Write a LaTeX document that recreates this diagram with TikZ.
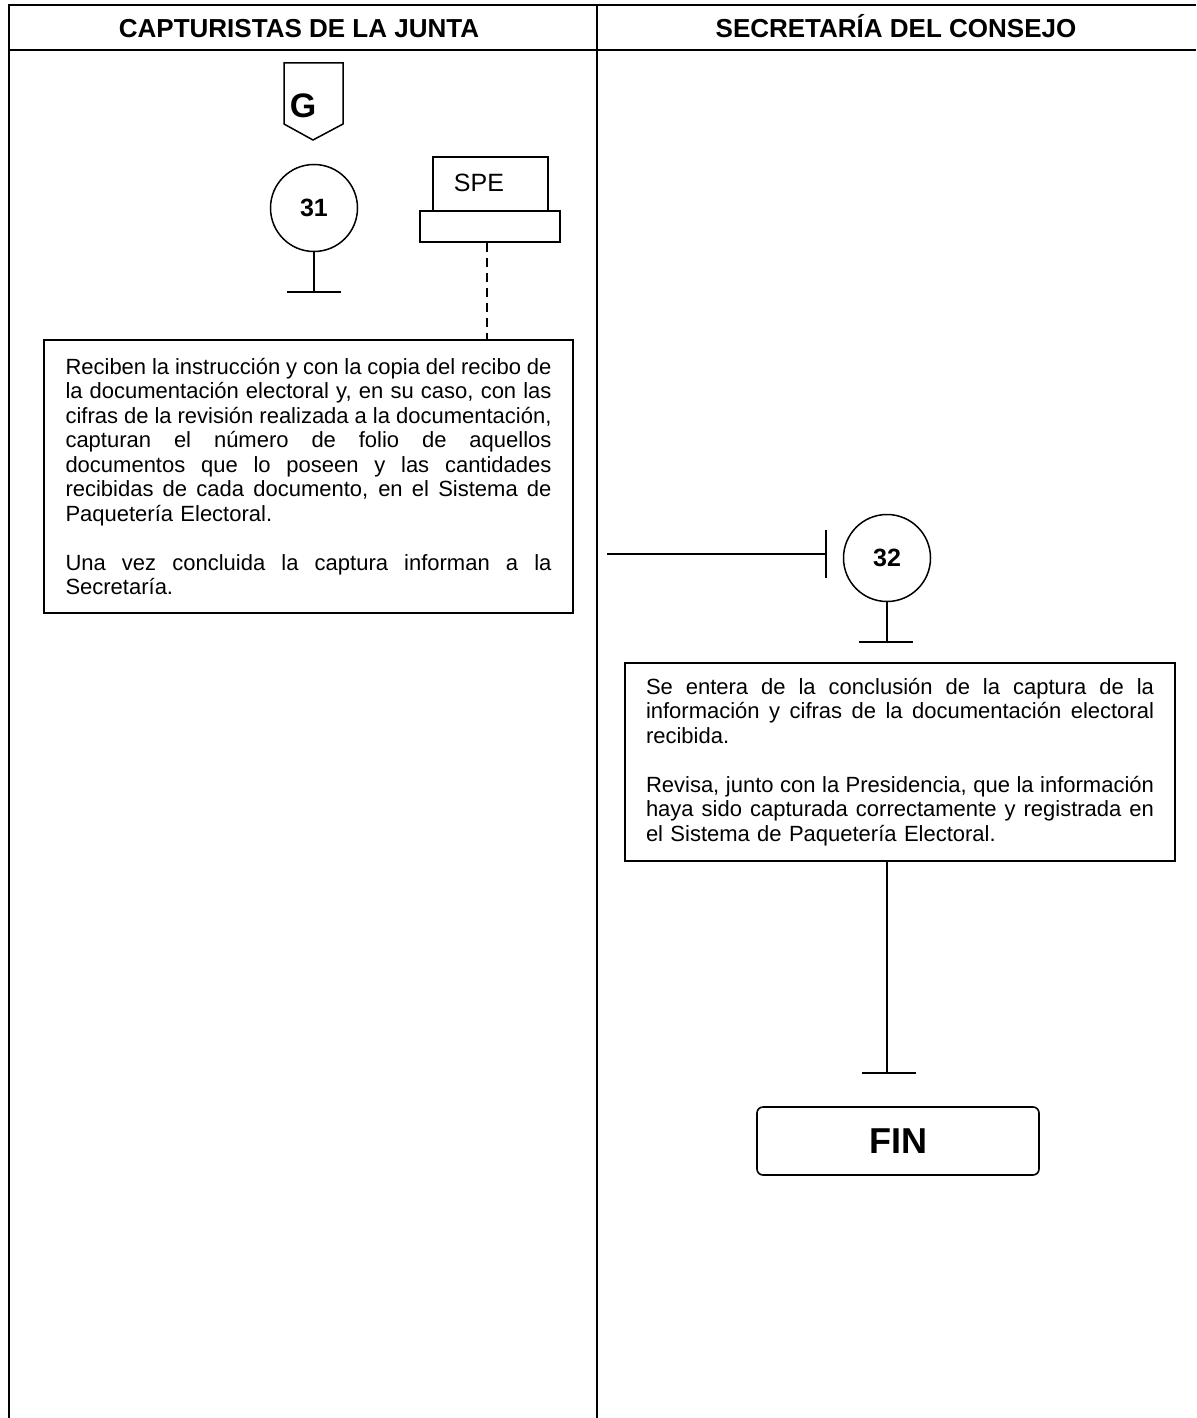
\documentclass[tikz,border=0pt]{standalone}
\usepackage{fontspec}
\setmainfont{Liberation Sans}
% one justified line of fixed width (interword glue must be stretchable)
\newcommand\jl[2]{{\spaceskip=0pt\xspaceskip=0pt\relax\makebox[#1][s]{#2}}}
\begin{document}
\begin{tikzpicture}[x=0.5pt,y=-0.5pt,
  frame/.style={line width=1pt},
  ln/.style={line width=0.75pt},
  stepcircle/.style={circle,draw,line width=0.75pt,minimum size=43.5pt,inner sep=0pt,
    font=\bfseries\fontsize{12.5}{14}\selectfont},
  procbox/.style={draw,line width=0.8pt,align=left,inner ysep=0pt,
    font=\fontsize{11}{12.25}\selectfont},
  header/.style={anchor=base,font=\bfseries\fontsize{13}{15}\selectfont}]
  \useasboundingbox (0,0) rectangle (1196,1418);

  % swimlane frame
  \draw[frame] (9,1418) -- (9,5) -- (1196,5);
  \draw[frame] (9,50) -- (1196,50);
  \draw[frame] (597,5) -- (597,1418);
  \node[header] (lane1) at (299,38) {CAPTURISTAS DE LA JUNTA};
  \node[header] (lane2) at (896,38) {SECRETARÍA DEL CONSEJO};

  % off-page connector G
  \draw[ln] (284,63) -- (343,63) -- (343,124) -- (313,140) -- (284,124) -- cycle;
  \node[font=\bfseries\fontsize{17}{20}\selectfont] (gconn) at (303,106) {G};

  % step 31
  \node[stepcircle] (c31) at (314,208) {31};
  \coordinate (t31) at (314,292);
  \draw[ln] (c31.south) -- (t31);
  \draw[ln] (287,292) -- (341,292);

  % system SPE
  \node[draw,line width=0.75pt,minimum width=57.5pt,minimum height=27pt,inner sep=0pt] (spetop) at (490.5,184) {};
  \node[font=\fontsize{12.5}{14}\selectfont] (spelabel) at (479,183) {SPE};
  \node[draw,line width=0.75pt,minimum width=70pt,minimum height=15.5pt,inner sep=0pt] (spebase) at (490,226.5) {};

  % activity of the capture staff
  \node[procbox,text width=243pt,inner xsep=10.75pt,minimum height=136.5pt] (box1) at (308.5,476.5) {%
    \jl{243pt}{Reciben la instrucción y con la copia del recibo de}\\
    \jl{243pt}{la documentación electoral y, en su caso, con las}\\
    \jl{243pt}{cifras de la revisión realizada a la documentación,}\\
    \jl{243pt}{capturan el número de folio de aquellos}\\
    \jl{243pt}{documentos que lo poseen y las cantidades}\\
    \jl{243pt}{recibidas de cada documento, en el Sistema de}\\
    Paquetería Electoral.\\[12.25pt]
    \jl{243pt}{Una vez concluida la captura informan a la}\\
    Secretaría.};
  \draw[ln,dash pattern=on 4.5pt off 3pt] (spebase.south -| 487,0) -- (487,0 |- box1.north);

  % hand-over to the secretariat, step 32
  \node[stepcircle] (c32) at (887,558) {32};
  \coordinate (in32) at (607,554);
  \coordinate (bar32) at (826,554);
  \draw[ln] (in32) -- (bar32);
  \draw[ln] (826,530) -- (826,578);
  \coordinate (t32) at (887,642);
  \draw[ln] (c32.south) -- (t32);
  \draw[ln] (859,642) -- (913,642);

  \node[procbox,text width=254pt,inner xsep=10.5pt,minimum height=99pt] (box2) at (900,762) {%
    \jl{254pt}{Se entera de la conclusión de la captura de la}\\
    \jl{254pt}{información y cifras de la documentación electoral}\\
    recibida.\\[12.25pt]
    \jl{254pt}{Revisa, junto con la Presidencia, que la información}\\
    \jl{254pt}{haya sido capturada correctamente y registrada en}\\
    el Sistema de Paquetería Electoral.};

  % end of procedure
  \coordinate (tfin) at (887,1073);
  \draw[ln] (c32 |- box2.south) -- (tfin);
  \draw[ln] (862,1073) -- (916,1073);
  \node[draw,line width=0.8pt,rounded corners=3pt,minimum width=141pt,minimum height=34pt,
    font=\bfseries\fontsize{18}{20}\selectfont] (fin) at (898,1141) {FIN};
\end{tikzpicture}
\end{document}
